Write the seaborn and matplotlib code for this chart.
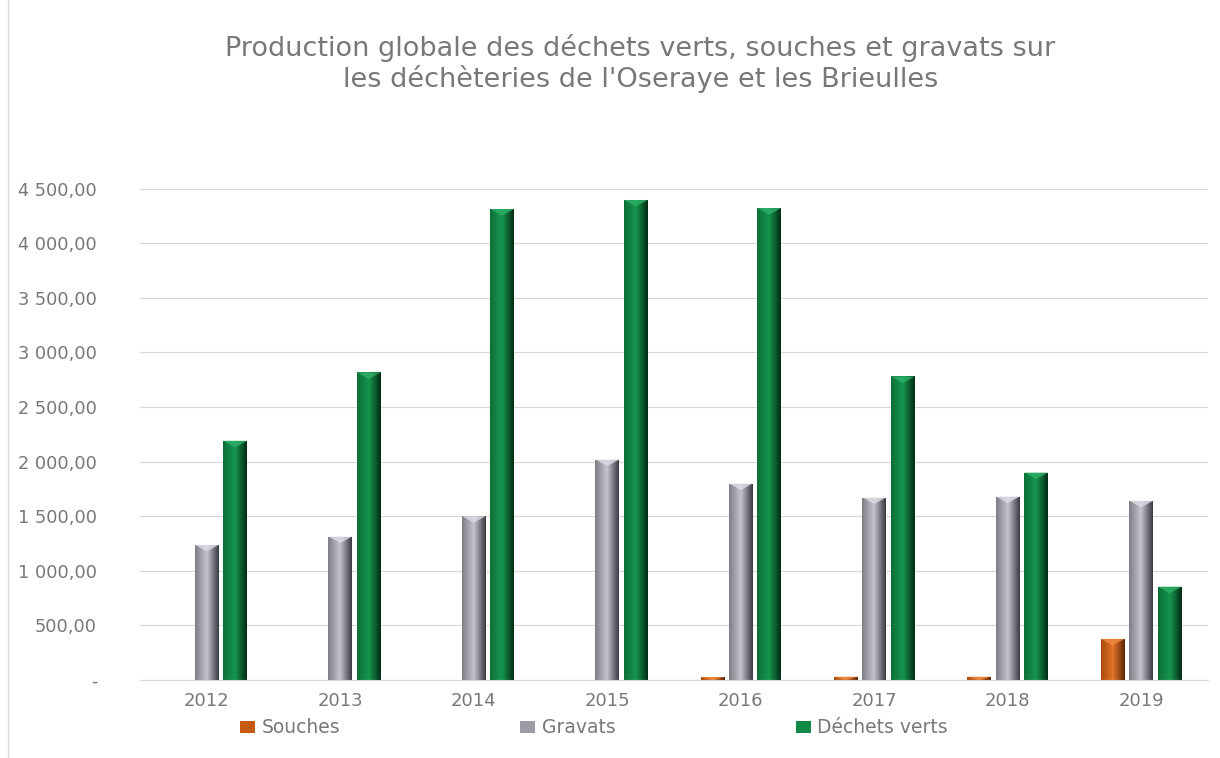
import numpy as np
import pandas as pd
import seaborn as sns
import matplotlib.colors as mcolors
from matplotlib import pyplot as plt
from matplotlib.lines import Line2D
from matplotlib.patches import Polygon

# Données (tonnes)
annees = ['2012', '2013', '2014', '2015', '2016', '2017', '2018', '2019']
souches = [0, 0, 0, 0, 25, 30, 30, 376]
gravats = [1237, 1314, 1500, 2019, 1799, 1671, 1680, 1641]
dechets_verts = [2191, 2817, 4314, 4397, 4323, 2780, 1900, 855]

series = ['Souches', 'Gravats', 'Déchets verts']
y_ticks = [0, 500, 1000, 1500, 2000, 2500, 3000, 3500, 4000, 4500]
y_labels = ['-', '500,00', '1 000,00', '1 500,00', '2 000,00', '2 500,00',
            '3 000,00', '3 500,00', '4 000,00', '4 500,00']

titre = ("Production globale des déchets verts, souches et gravats sur\n"
         "les déchèteries de l'Oseraye et les Brieulles")

couleurs = {'Souches': '#c55a11', 'Gravats': '#9c9ca6', 'Déchets verts': '#118a48'}
# dégradés (gauche, centre, droite) pour imiter le relief Excel
degrades = {
    'Souches': ['#a94a0c', '#e2762a', '#5e2504'],
    'Gravats': ['#7e7e88', '#c4c4cc', '#3a3a42'],
    'Déchets verts': ['#0d6e38', '#16964f', '#042c15'],
}
biseau = {'Souches': '#f08a40', 'Gravats': '#dcdce4', 'Déchets verts': '#2fb068'}

df = pd.DataFrame({
    'annee': np.repeat(annees, 3),
    'serie': series * len(annees),
    'valeur': [v for trio in zip(souches, gravats, dechets_verts) for v in trio],
})

gris = '#787878'
plt.rcParams['font.family'] = ['DejaVu Sans']

fig = plt.figure(figsize=(12.2, 7.58), dpi=100)
ax = fig.add_axes([0.1148, 0.103, 0.8754, 0.648])

sns.barplot(data=df, x='annee', y='valeur', hue='serie', hue_order=series,
            palette=couleurs, width=0.64, gap=0.17, ax=ax, legend=True,
            errorbar=None, saturation=1)

ax.set_xlim(-0.5, len(annees) - 0.5)
ax.set_ylim(0, 4500)

# relief des barres
for patch in list(ax.patches):
    h = patch.get_height()
    if h <= 0 or patch.get_width() <= 0:
        continue
    fc = mcolors.to_hex(patch.get_facecolor())
    nom = [k for k, c in couleurs.items() if c == fc]
    if not nom:
        continue
    cmap = mcolors.LinearSegmentedColormap.from_list('b', degrades[nom[0]])
    grad = np.linspace(0, 1, 64).reshape(1, -1)
    x0, w = patch.get_x(), patch.get_width()
    im = ax.imshow(grad, extent=(x0, x0 + w, 0, h),
                   cmap=cmap, aspect='auto', zorder=patch.get_zorder() + 0.1)
    im.set_clip_path(patch)
    d = min(60, h)
    tri = Polygon([(x0, h), (x0 + w, h), (x0 + w / 2, h - d)], closed=True,
                  facecolor=biseau[nom[0]], edgecolor='none', alpha=0.8,
                  zorder=patch.get_zorder() + 0.2)
    ax.add_patch(tri)

ax.set_xlim(-0.5, len(annees) - 0.5)
ax.set_ylim(0, 4500)
ax.set_yticks(y_ticks)
ax.set_yticklabels(y_labels)
ax.set_xlabel('')
ax.set_ylabel('')

ax.grid(axis='y', color='#d9d9d9', linewidth=0.9)
ax.set_axisbelow(True)
for s in ['top', 'right', 'left']:
    ax.spines[s].set_visible(False)
ax.spines['bottom'].set_color('#d9d9d9')
ax.tick_params(axis='both', length=0, labelcolor=gris)
ax.tick_params(axis='y', pad=31, labelsize=12.8)
ax.tick_params(axis='x', pad=9, labelsize=13)

handles, labels = ax.get_legend_handles_labels()
ax.get_legend().remove()
fig.legend(handles, labels, loc='center', bbox_to_anchor=(0.487, 0.04),
           ncol=3, frameon=False, fontsize=13.5, labelcolor=gris,
           handlelength=0.8, handleheight=0.6, handletextpad=0.35,
           columnspacing=9.6)

fig.text(0.525, 0.916, titre, ha='center', va='center', fontsize=19.5,
         color=gris, linespacing=1.15)

# bord gauche de la zone de graphique
fig.add_artist(Line2D([8 / 1220, 8 / 1220], [0.0, 1.0], color='#d9d9d9',
                      linewidth=1, transform=fig.transFigure))

fig.savefig('out.png', dpi=100)
